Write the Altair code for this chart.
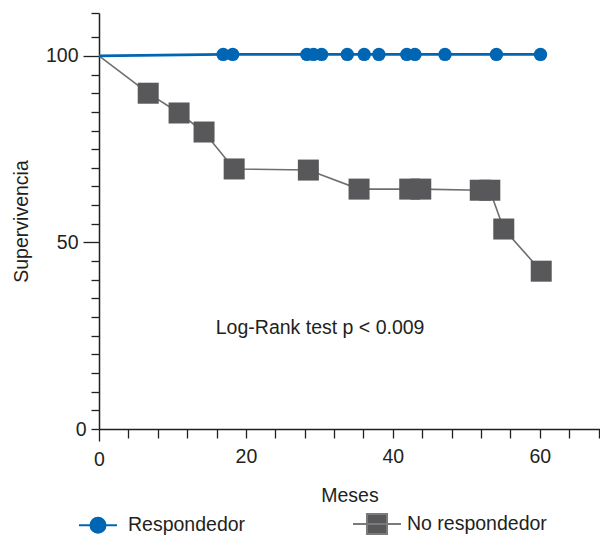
import altair as alt
import pandas as pd

# ---- data ----
resp_x = [0, 16.9, 18.2, 28.3, 29.2, 30.3, 33.8, 36.1, 38.1, 41.9, 43.0, 47.1, 54.1, 60.1]
resp_y = [100, 100.4, 100.4, 100.4, 100.4, 100.4, 100.4, 100.4, 100.4, 100.4, 100.4, 100.4, 100.4, 100.4]

nores_x = [0, 6.7, 10.9, 14.3, 18.4, 28.5, 35.4, 42.3, 43.8, 51.9, 53.2, 55.1, 60.2]
nores_y = [100, 90.0, 84.7, 79.6, 69.7, 69.4, 64.3, 64.3, 64.3, 64.0, 64.0, 53.6, 42.3]

groups = ["Respondedor", "No respondedor"]
annot_text = ["Log-Rank test p < 0.009"]
annot_x = [30.1]
annot_y = [25.5]

x_ticks = [0, 4, 8, 12, 16, 20, 24, 28, 32, 36, 40, 44, 48, 52, 56, 60, 64, 68]
y_ticks = [0, 5, 10, 15, 20, 25, 30, 35, 40, 45, 50, 55, 60, 65, 70, 75, 80, 85, 90, 95, 100, 105, 111.5]

BLUE = "#0066b3"
GREY = "#58585a"
GREY_LINE = "#6e6e6e"
TXT = "#231f20"
FONT = "Liberation Sans"
FS = 19.5

resp = pd.DataFrame({"x": resp_x, "y": resp_y, "i": range(len(resp_x))})
nores = pd.DataFrame({"x": nores_x, "y": nores_y, "i": range(len(nores_x))})
leg = pd.DataFrame({"grupo": groups, "x": [0, 0], "y": [0, 0]})
annot = pd.DataFrame({"t": annot_text, "x": annot_x, "y": annot_y})

xscale = alt.Scale(domain=[0, 68.2], nice=False, zero=False)
yscale = alt.Scale(domain=[0, 111.5], nice=False, zero=False)

x_lab_test = "datum.value % 20 == 0"
y_lab_test = "datum.value == 0 || datum.value == 50 || datum.value == 100"

xaxis = alt.Axis(
    values=x_ticks,
    labelExpr=f"({x_lab_test}) ? datum.label : ''",
    labelFontSize={"condition": {"test": x_lab_test, "value": FS}, "value": 0},
    tickSize={"condition": {"test": "datum.value == 0", "value": 12}, "value": 9},
    labelPadding=9, grid=False,
    title="Meses", titlePadding=18,
    titleFontSize=FS, labelFont=FONT, titleFont=FONT,
    titleFontWeight="normal", labelColor=TXT, titleColor=TXT,
    domainColor=TXT, tickColor=TXT, domainWidth=1.5, tickWidth=1.3,
    labelFlush=False, labelOverlap=False,
)
yaxis = alt.Axis(
    values=y_ticks,
    labelExpr=f"({y_lab_test}) ? datum.label : ''",
    labelFontSize={"condition": {"test": y_lab_test, "value": FS}, "value": 0},
    tickSize={"condition": {"test": "datum.value == 50 || datum.value == 100", "value": 16},
              "value": 8},
    labelPadding=5, grid=False,
    title="Supervivencia", titlePadding=14,
    titleFontSize=FS, labelFont=FONT, titleFont=FONT,
    titleFontWeight="normal", labelColor=TXT, titleColor=TXT,
    domainColor=TXT, tickColor=TXT, domainWidth=1.5, tickWidth=1.3,
    labelFlush=False, labelOverlap=False,
)

X = alt.X("x:Q", scale=xscale, axis=xaxis)
Y = alt.Y("y:Q", scale=yscale, axis=yaxis)

grey_line = alt.Chart(nores).mark_line(color=GREY_LINE, strokeWidth=1.6).encode(
    x=X, y=Y, order="i:O")
grey_pts = alt.Chart(nores).transform_filter("datum.i > 0").mark_point(
    shape="square", filled=True, size=441, color=GREY, opacity=1).encode(x=X, y=Y)
blue_line = alt.Chart(resp).mark_line(color=BLUE, strokeWidth=2.6).encode(
    x=X, y=Y, order="i:O")
blue_pts = alt.Chart(resp).transform_filter("datum.i > 0").mark_point(
    shape="circle", filled=True, size=180, color=BLUE, opacity=1).encode(x=X, y=Y)

text = alt.Chart(annot).mark_text(
    font=FONT, fontSize=FS, color=TXT, align="center", baseline="alphabetic").encode(
    x=X, y=Y, text="t:N")

# legend-only layer (no rows drawn): line-through-marker symbols
circ_path = "M-1.9,0H1.9M-0.75,0A0.75,0.75 0 1,0 0.75,0A0.75,0.75 0 1,0 -0.75,0Z"
sq_path = "M-2.4,0H2.4M-1,-1H1V1H-1Z"
legend = alt.Legend(
    orient="none", legendX=-12, legendY=500, direction="horizontal", title=None,
    labelFont=FONT, labelFontSize=FS, labelColor=TXT, symbolSize=400,
    symbolStrokeWidth=2, labelOffset=19, columnPadding=103, symbolOpacity=1,
)
legend_layer = alt.Chart(leg).transform_filter("false").mark_point(
    filled=True, size=400, opacity=1, strokeWidth=2).encode(
    x=X, y=Y,
    shape=alt.Shape("grupo:N", scale=alt.Scale(domain=groups, range=[circ_path, sq_path]), legend=legend),
    fill=alt.Fill("grupo:N", scale=alt.Scale(domain=groups, range=[BLUE, GREY]), legend=legend),
    stroke=alt.Stroke("grupo:N", scale=alt.Scale(domain=groups, range=[BLUE, "#7a7a7a"]), legend=legend),
)

chart = alt.layer(grey_line, grey_pts, blue_line, blue_pts, text, legend_layer).properties(
    width=501, height=416,
    autosize=alt.AutoSizeParams(type="none"),
    padding={"left": 91, "top": 5, "right": 0, "bottom": 107},
).configure_view(stroke=None)

chart.save("out.html", embed_options={"renderer": "svg", "actions": False})
